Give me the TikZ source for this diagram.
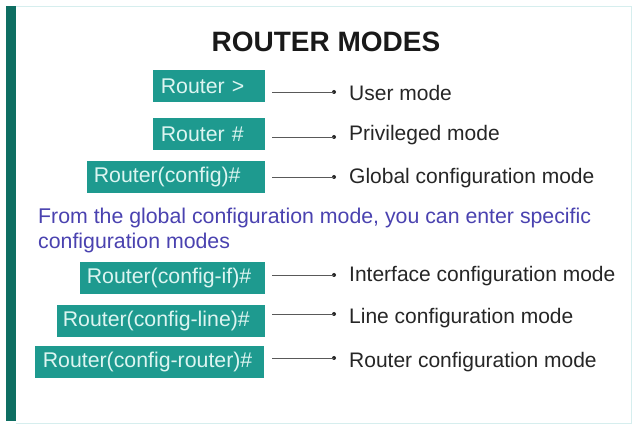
\documentclass[tikz,border=0pt]{standalone}
\usepackage{fontspec}
\setmainfont{Liberation Sans}
\definecolor{barteal}{HTML}{0E6E62}
\definecolor{boxteal}{HTML}{1E9A8F}
\definecolor{boxtext}{HTML}{DDF5F1}
\definecolor{introblue}{HTML}{4A42B0}
\definecolor{labelgray}{HTML}{262626}
\definecolor{edgecyan}{HTML}{D6EEEE}
\begin{document}
\begin{tikzpicture}[x=1pt,y=-1pt,
  prompt/.style={fill=boxteal,text=boxtext,inner ysep=0pt,anchor=east,
    font=\fontsize{21.3}{22}\selectfont,minimum height=32pt,align=left,
    text width=#1},
  modelabel/.style={anchor=west,inner sep=0pt,text=labelgray,
    font=\fontsize{21}{23}\selectfont},
  link/.style={draw=black!65,line width=0.8pt},
  tipdot/.style={circle,fill=labelgray,inner sep=0pt,minimum size=4pt}]
  % page and frame
  \useasboundingbox (0,0) rectangle (633,425);
  \fill[white] (0,0) rectangle (633,425);
  \draw[edgecyan,line width=1pt] (16,6.5) -- (631,6.5) -- (631,423) -- (16,423);
  \fill[barteal] (6,6) rectangle (16,421);
  % title
  \node[font=\bfseries\fontsize{28}{30}\selectfont,text=black!90] (title) at (326,42) {ROUTER MODES};
  % prompt boxes (right edges aligned); box width = text width + 2 * inner xsep
  \node[prompt=96pt,inner xsep=8pt] (p1) at (265,86) {Router >};
  \node[prompt=164pt,inner xsep=7pt] (p3) at (265,177) {Router(config)\#};
  \node[prompt=96pt,inner xsep=8pt] (p2) at (265,134) {Router \#};
  \node[prompt=171pt,inner xsep=7pt] (p4) at (265,278) {Router(config-if)\#};
  \node[prompt=196pt,inner xsep=6pt] (p5) at (265,321) {Router(config-line)\#};
  \node[prompt=213pt,inner xsep=8pt] (p6) at (264,362) {Router(config-router)\#};
  % explanatory text
  \node[anchor=north west,inner sep=0pt,text=introblue,align=left,
    font=\fontsize{21.3}{25}\selectfont] (intro) at (38,208)
    {From the global configuration mode, you can enter specific\\configuration modes};
  % mode labels
  \node[modelabel] (m1) at (349,93) {User mode};
  \node[modelabel] (m2) at (349,135) {Privileged mode};
  \node[modelabel] (m3) at (349,178) {Global configuration mode};
  \node[modelabel] (m4) at (349,276) {Interface configuration mode};
  \node[modelabel] (m5) at (349,318) {Line configuration mode};
  \node[modelabel] (m6) at (349,362) {Router configuration mode};
  % connectors ending in a small dot
  \foreach \i/\yy in {1/92,2/137,3/177,4/275,5/314,6/358}{
    \node[tipdot] (d\i) at (334,\yy) {};
    \coordinate (s\i) at (272,\yy);
    \draw[link] (s\i) -- (d\i.center);
  }
\end{tikzpicture}
\end{document}
